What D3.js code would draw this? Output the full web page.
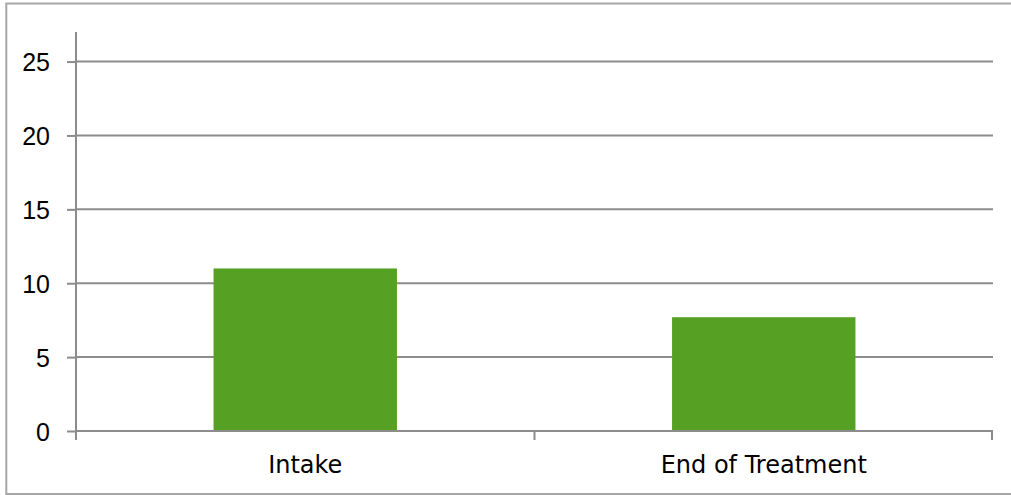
<!DOCTYPE html>
<html>
<head>
<meta charset="utf-8">
<script src="https://cdn.jsdelivr.net/npm/d3@7"></script>
<style>
  html, body { margin: 0; padding: 0; background: #ffffff; }
  svg { display: block; }
</style>
</head>
<body>
<svg id="chart" width="1011" height="495"></svg>
<script>
// Chart data
const categories = ["Intake", "End of Treatment"];
const values = [11.0, 7.7];
const yTicks = [0, 5, 10, 15, 20, 25];

const W = 1011, H = 495;
const plot = { left: 76, right: 993, top: 32, bottom: 431 };

const svg = d3.select("#chart");

// Outer frame
svg.append("rect")
  .attr("x", 6.3).attr("y", 3.5)
  .attr("width", 1012).attr("height", 490.5)
  .attr("fill", "none")
  .attr("stroke", "#a6a6a6")
  .attr("stroke-width", 2);

const x = d3.scaleBand()
  .domain(categories)
  .range([plot.left, plot.right])
  .paddingInner(0).paddingOuter(0);

const y = d3.scaleLinear()
  .domain([0, 27])
  .range([plot.bottom, plot.top]);

const gridColor = "#8c8c8c";

// Horizontal gridlines
svg.append("g")
  .selectAll("line")
  .data(yTicks.filter(d => d > 0))
  .join("line")
  .attr("x1", plot.left).attr("x2", plot.right)
  .attr("y1", d => y(d)).attr("y2", d => y(d))
  .attr("stroke", gridColor)
  .attr("stroke-width", 2);

// Bars
const barFrac = 0.4;
svg.append("g")
  .selectAll("rect")
  .data(categories.map((c, i) => ({ c, v: values[i] })))
  .join("rect")
  .attr("x", d => x(d.c) + x.bandwidth() * (1 - barFrac) / 2)
  .attr("width", x.bandwidth() * barFrac)
  .attr("y", d => y(d.v))
  .attr("height", d => y(0) - y(d.v))
  .attr("fill", "#56a124");

// Y axis
const yAxis = d3.axisLeft(y)
  .tickValues(yTicks)
  .tickSize(9)
  .tickPadding(17)
  .tickFormat(d3.format("d"));

const gy = svg.append("g")
  .attr("transform", `translate(${plot.left},0)`)
  .call(yAxis);
gy.select(".domain").remove();
gy.append("line")
  .attr("x1", 0).attr("x2", 0)
  .attr("y1", plot.top).attr("y2", plot.bottom + 9)
  .attr("stroke", gridColor).attr("stroke-width", 2);
gy.selectAll(".tick line").attr("stroke", gridColor).attr("stroke-width", 2);
gy.selectAll(".tick text")
  .attr("font-family", "'Liberation Sans', Arial, sans-serif")
  .attr("font-size", 25)
  .attr("fill", "#000")
  .attr("dy", "0.36em");

// X axis baseline with boundary ticks between categories
const gx = svg.append("g");
gx.append("line")
  .attr("x1", plot.left).attr("x2", plot.right)
  .attr("y1", y(0)).attr("y2", y(0))
  .attr("stroke", gridColor).attr("stroke-width", 2);
const boundaries = categories.map(c => x(c) + x.bandwidth()).map(v => Math.min(v, plot.right - 1));
gx.selectAll("line.tick")
  .data(boundaries)
  .join("line")
  .attr("class", "tick")
  .attr("x1", d => d).attr("x2", d => d)
  .attr("y1", y(0)).attr("y2", y(0) + 9)
  .attr("stroke", gridColor).attr("stroke-width", 2);

// Category labels
gx.selectAll("text")
  .data(categories)
  .join("text")
  .attr("x", d => x(d) + x.bandwidth() / 2)
  .attr("y", 472.5)
  .attr("text-anchor", "middle")
  .attr("font-family", "'DejaVu Sans', sans-serif")
  .attr("font-size", 24)
  .attr("fill", "#000")
  .text(d => d);
</script>
</body>
</html>
